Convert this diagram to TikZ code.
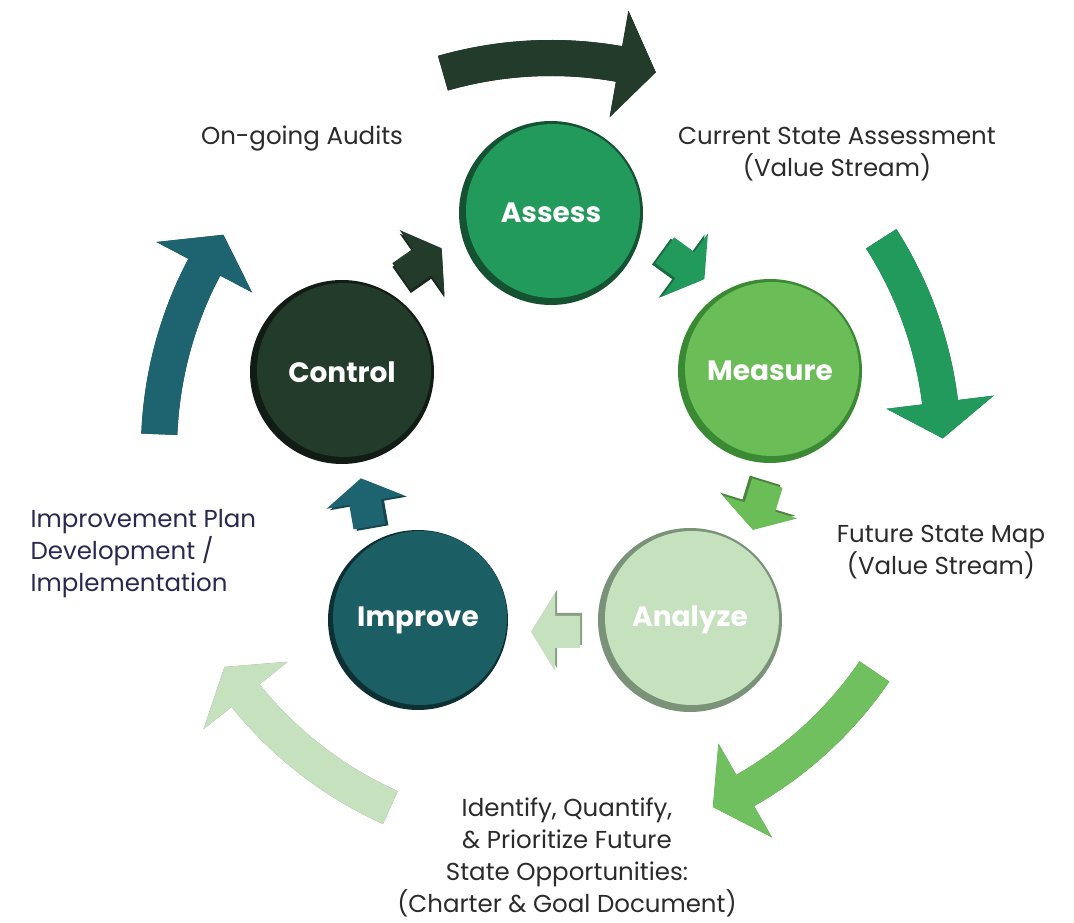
\documentclass[tikz,border=0pt]{standalone}
\usepackage{fontspec}
\setmainfont{Poppins}
\usepackage{tikz}
\usetikzlibrary{calc}
\definecolor{controlgreen}{HTML}{233B2A}
\definecolor{controlrim}{HTML}{111D14}
\definecolor{assessgreen}{HTML}{229A5B}
\definecolor{assessrim}{HTML}{145232}
\definecolor{measuregreen}{HTML}{6ABD57}
\definecolor{measurerim}{HTML}{3A8A34}
\definecolor{analyzegreen}{HTML}{C5E1BE}
\definecolor{analyzerim}{HTML}{7A9277}
\definecolor{improveteal}{HTML}{1B5E63}
\definecolor{improverim}{HTML}{0D3034}
\definecolor{arrowteal}{HTML}{1E6470}
\definecolor{notegray}{HTML}{2B2B2B}
\definecolor{plannavy}{HTML}{2A2850}

% big curved arrow round the hub: colour, tail angle, head angle, tip angle
\newcommand{\cyclearrow}[4]{
  \fill[#1!65!black, shift={(-4,-4)}] ($(hub)+(#2:410)$) arc[start angle=#2, end angle=#3, radius=410]
    -- ($(hub)+(#3:446)$) -- ($(hub)+(#4:392)$) -- ($(hub)+(#3:338)$)
    -- ($(hub)+(#3:374)$) arc[start angle=#3, end angle=#2, radius=374] -- cycle;
  \fill[#1] ($(hub)+(#2:410)$) arc[start angle=#2, end angle=#3, radius=410]
    -- ($(hub)+(#3:446)$) -- ($(hub)+(#4:392)$) -- ($(hub)+(#3:338)$)
    -- ($(hub)+(#3:374)$) arc[start angle=#3, end angle=#2, radius=374] -- cycle;
}

\begin{document}
\begin{tikzpicture}[
    x=1pt, y=1pt,
    stage/.style 2 args={circle, minimum size=184pt, inner sep=0pt, fill=#2, text=white,
        font=\bfseries\fontsize{28}{30}\selectfont,
        path picture={\fill[#1] ([shift={(2,2)}]path picture bounding box.center) circle (87);}},
    note/.style={font=\fontsize{24.5}{32}\selectfont, text=notegray, align=center},
    pics/flow/.style={code={
        \fill[#1!70!black] (-27,-19) -- (-2,-19) -- (-2,-42) -- (22,-3) -- (-2,36) -- (-2,13) -- (-27,13) -- cycle;
        \fill[#1] (-25,-16) -- (0,-16) -- (0,-39) -- (24,0) -- (0,39) -- (0,16) -- (-25,16) -- cycle;
    }}
]
\useasboundingbox (0,0) rectangle (1074,922);
\coordinate (hub) at (551,472);

% outer cycle
\cyclearrow{controlgreen}{106}{80}{74.5}
\cyclearrow{assessgreen}{32.6}{7}{1.7}
\cyclearrow{measuregreen!95!white}{-34.4}{-60.3}{-65.6}
\cyclearrow{analyzegreen}{-114.2}{-141.2}{-146.4}
\cyclearrow{arrowteal}{177.7}{152.2}{146.7}

% stages
\node[stage={assessgreen}{assessrim}] (assess) at (551,709) {Assess};
\node[stage={measuregreen}{measurerim}] (measure) at (770,551) {Measure};
\node[stage={analyzegreen}{analyzerim}] (analyze) at (690,302) {Analyze};
\node[stage={improveteal}{improverim}, minimum size=180pt] (improve) at (418,302) {Improve};
\node[stage={controlgreen}{controlrim}] (control) at (342,550) {Control};

% inner arrows
\pic[rotate=35] (ca) at (422,660) {flow=controlgreen};
\pic[rotate=-36] (am) at (685,657) {flow=assessgreen};
\pic[rotate=-107] (ma) at (760,415) {flow=measuregreen};
\pic[rotate=180] (ai) at (555,290) {flow=analyzegreen};
\pic[rotate=100] (ic) at (365,420) {flow=arrowteal};

% notes
\node[note] (audits) at (302,784) {On-going Audits};
\node[note] (current) at (837,768) {Current State Assessment\\(Value Stream)};
\node[note, text=plannavy, align=left, anchor=west] (plan) at (27,368) {Improvement Plan\\Development /\\Implementation};
\node[note] (future) at (941,370) {Future State Map\\(Value Stream)};
\node[note] (identify) at (567,65) {Identify, Quantify,\\\& Prioritize Future\\State Opportunities:\\(Charter \& Goal Document)};
\end{tikzpicture}
\end{document}
